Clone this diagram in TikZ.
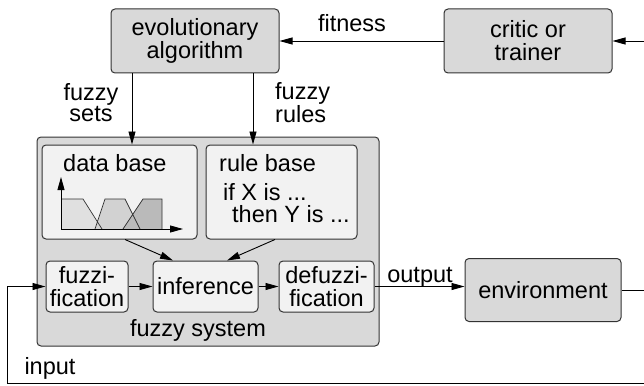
\documentclass[tikz,border=0pt]{standalone}
\usepackage{fontspec}
\setmainfont{Liberation Sans}
\usetikzlibrary{arrows.meta}
\definecolor{boxgray}{HTML}{D9D9D9}
\definecolor{innergray}{HTML}{F2F2F2}
\definecolor{edgegray}{HTML}{333333}
\definecolor{mfA}{HTML}{E0E0E0}
\definecolor{mfB}{HTML}{D2D2D2}
\definecolor{mfC}{HTML}{BABABA}
\tikzset{
  outerbox/.style={draw=edgegray, fill=boxgray, rounded corners=4pt, line width=1pt, inner sep=0pt, align=center},
  innerbox/.style={draw=edgegray, fill=innergray, rounded corners=4pt, line width=1pt, inner sep=0pt, align=center},
  arr/.style={-{Triangle[length=13pt,width=7pt]}, line width=0.9pt, draw=black},
  lbl/.style={inner sep=0pt},
}
\begin{document}
\begin{tikzpicture}[x=1pt,y=-1pt, font=\fontsize{23.5}{23}\selectfont]
\useasboundingbox (0,0) rectangle (644,385);
% top boxes
\node[outerbox, minimum width=168pt, minimum height=64pt] (ea) at (195,41) {evolutionary\\algorithm};
\node[outerbox, minimum width=168pt, minimum height=64pt] (critic) at (528,41) {critic or\\trainer};
% fuzzy system
\node[outerbox, minimum width=342pt, minimum height=209pt] (fs) at (208,241.5) {};
\node[innerbox, minimum width=155pt, minimum height=94pt] (db) at (119.5,192) {};
\node[innerbox, minimum width=151pt, minimum height=94pt] (rb) at (281.5,192) {};
\node[innerbox, minimum width=82pt, minimum height=51pt] (fuzz) at (87,286.5) {fuzzi-\\fication};
\node[innerbox, minimum width=105pt, minimum height=51pt] (inf) at (205.5,286.5) {inference};
\node[innerbox, minimum width=95pt, minimum height=51pt] (defuzz) at (326.5,286.5) {defuzzi-\\fication};
\node[outerbox, minimum width=156pt, minimum height=63pt] (env) at (543,290) {environment};
% texts
\node[lbl, anchor=base west] (dbt) at (63,171) {data base};
\node[lbl, anchor=base west] (rbt) at (219,171) {rule base};
\node[lbl, anchor=base west] (ifx) at (223,200) {if X is ...};
\node[lbl, anchor=base west] (theny) at (232,222) {then Y is ...};
\node[lbl, anchor=base] (fst) at (198,336) {fuzzy system};
\node[lbl, anchor=base] (fit) at (352,32) {fitness};
\node[lbl, anchor=base] (outt) at (420,282) {output};
\node[lbl, anchor=base] (inpt) at (50,374) {input};
\node[lbl, align=center, font=\fontsize{23.5}{21}\selectfont] (fsets) at (91,103) {fuzzy\\sets};
\node[lbl, align=left, anchor=west, font=\fontsize{23.5}{21}\selectfont] (frules) at (275,103) {fuzzy\\rules};
% membership functions
\fill[mfA] (61,229) -- (61,199) -- (83,199) -- (102,229) -- cycle;
\fill[mfB] (95,229) -- (105,199) -- (125,199) -- (140,229) -- cycle;
\fill[mfC] (123,229) -- (143,199) -- (162,199) -- (162,229) -- cycle;
\draw[line width=0.7pt, draw=edgegray] (61,199) -- (83,199) -- (102,229)
  (95,229) -- (105,199) -- (125,199) -- (140,229)
  (123,229) -- (143,199) -- (162,199) -- (162,229);
\draw[arr] (61,229) -- (61,177);
\draw[arr] (61,229) -- (183,229);
% connectors
\coordinate (rin) at (644,41);
\coordinate (rout) at (644,290);
\coordinate (bR) at (644,383);
\coordinate (bL) at (7,383);
\draw[arr] (critic.west) -- (ea.east);
\draw[arr] (rin) -- (critic.east);
\draw[line width=0.9pt] (env.east) -- (rout);
\draw[arr] ([xshift=-63pt]ea.south) -- ([xshift=-63pt]ea.south |- db.north);
\draw[arr] ([xshift=58pt]ea.south) -- ([xshift=58pt]ea.south |- rb.north);
\draw[arr] ([xshift=5.5pt]db.south) -- ([xshift=-32.5pt]inf.north);
\draw[arr] ([xshift=-6.5pt]rb.south) -- ([xshift=21.5pt]inf.north);
\draw[arr] (fuzz.east) -- (inf.west);
\draw[arr] (inf.east) -- (defuzz.west);
\draw[arr] (defuzz.east) -- (defuzz.east -| env.west);
\draw[arr] (bR) -- (bL) |- (fuzz.west);
\end{tikzpicture}
\end{document}
